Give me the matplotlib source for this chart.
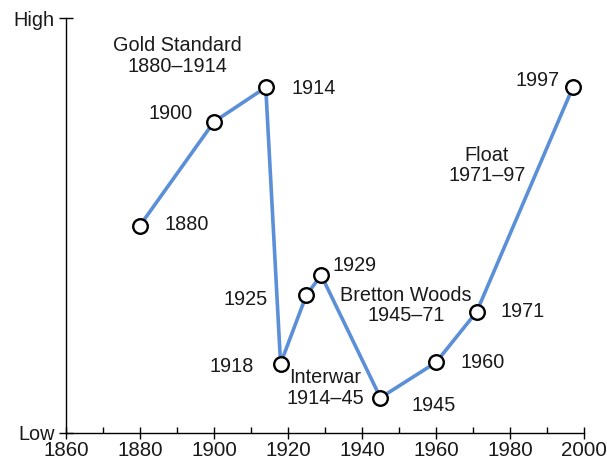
import matplotlib
matplotlib.use("Agg")
from matplotlib import pyplot as plt
from matplotlib.ticker import MultipleLocator

plt.rcParams['font.family'] = ['Liberation Sans', 'DejaVu Sans']

# Data (stylized capital mobility, Low=0 .. High=100)
years = [1880, 1900, 1914, 1918, 1925, 1929, 1945, 1960, 1971, 1997]
mobility = [50, 75, 83.3, 16.7, 33.3, 38, 8.5, 17, 29.2, 83.3]

# label offsets (pixels) for each year label
offsets = [(47, 1), (-43, 8), (48, -1), (-49, -3), (-61, -5),
           (33, 10), (53, -8), (47, 0), (46, 0), (-35, 7)]

eras = ["Gold Standard\n1880\u20131914", "Float\n1971\u201397",
        "Bretton Woods\n1945\u201371", "Interwar\n1914\u201345"]
era_pos = [(1890, 90.8), (1973.8, 64.5), (1951.9, 30.7), (1930, 10.9)]

fig = plt.figure(figsize=(6.07, 4.63), dpi=100)
ax = fig.add_axes([0.1087, 0.0648, 0.8533, 0.8962])

ax.plot(years, mobility, color='#5b8fd8', linewidth=2.6, zorder=2)
ax.plot(years, mobility, linestyle='none', marker='o', markersize=10.5,
        markerfacecolor='white', markeredgecolor='black',
        markeredgewidth=1.7, zorder=3)

for yr, val, off in zip(years, mobility, offsets):
    ax.annotate(str(yr), (yr, val), xytext=off, textcoords='offset pixels',
                ha='center', va='center', fontsize=14.3, color='#1a1a1a')

for txt, pos in zip(eras, era_pos):
    ax.text(pos[0], pos[1], txt, ha='center', va='center', fontsize=14.3,
            color='#1a1a1a', linespacing=1.1)

ax.set_xlim(1860, 2000)
ax.set_ylim(0, 100)
ax.set_xticks(range(1860, 2001, 20))
ax.xaxis.set_minor_locator(MultipleLocator(10))
ax.set_yticks([0, 100])
ax.set_yticklabels(['Low', 'High'])

for s in ['top', 'right']:
    ax.spines[s].set_visible(False)
for s in ['left', 'bottom']:
    ax.spines[s].set_linewidth(1.0)

ax.tick_params(axis='x', which='major', direction='inout', length=8,
               width=1, labelsize=14.8, pad=2, labelcolor='#1a1a1a')
ax.tick_params(axis='x', which='minor', direction='in', length=4, width=1)
ax.tick_params(axis='y', which='major', direction='inout', length=10,
               width=1, labelsize=14.3, pad=3, labelcolor='#1a1a1a')

plt.savefig('out.png', dpi=100)
